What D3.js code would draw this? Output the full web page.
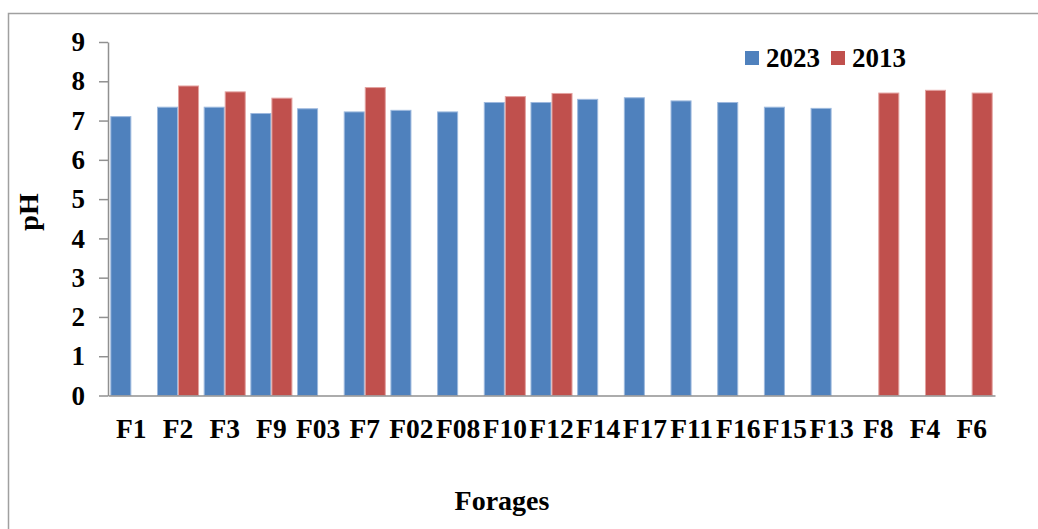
<!DOCTYPE html>
<html>
<head>
<meta charset="utf-8">
<script src="https://cdn.jsdelivr.net/npm/d3@7"></script>
<style>
  html, body { margin: 0; padding: 0; background: #fff; }
  svg { display: block; }
  text { font-family: "Liberation Serif", "Times New Roman", serif; font-weight: bold; fill: #000; }
</style>
</head>
<body>
<svg id="chart" width="1038" height="529"></svg>
<script>
// Borehole (forage) pH, 2023 vs 2013
const categories = ["F1","F2","F3","F9","F03","F7","F02","F08","F10","F12","F14","F17","F11","F16","F15","F13","F8","F4","F6"];
const seriesNames = ["2023", "2013"];
const ph2023 = [7.10, 7.34, 7.34, 7.18, 7.30, 7.22, 7.26, 7.22, 7.46, 7.46, 7.54, 7.58, 7.50, 7.46, 7.34, 7.31, null, null, null];
const ph2013 = [null, 7.88, 7.73, 7.57, null, 7.84, null, null, 7.61, 7.69, null, null, null, null, null, null, 7.70, 7.77, 7.70];
const yTicks = [0, 1, 2, 3, 4, 5, 6, 7, 8, 9];
const colors = { "2023": "#4F81BD", "2013": "#C0504D" };
const strokes = { "2023": "#9DB9DE", "2013": "#E3A19F" };

const svg = d3.select("#chart");

// chart area frame
svg.append("rect")
  .attr("x", 8.5).attr("y", 13.5)
  .attr("width", 1100).attr("height", 600)
  .attr("fill", "none").attr("stroke", "#A0A0A0").attr("stroke-width", 1.5);

const plot = { left: 108, right: 995, top: 42, bottom: 395.5 };

const x0 = d3.scaleBand().domain(categories).range([plot.left, plot.right]).paddingInner(0).paddingOuter(0);
const x1 = d3.scaleBand().domain(seriesNames).range([0, x0.bandwidth()]).paddingInner(0).paddingOuter(0.11);
const y = d3.scaleLinear().domain([0, 9]).range([plot.bottom, plot.top]);

// bars
const rows = categories.map((c, i) => ({ cat: c, values: [
  { s: "2023", v: ph2023[i] },
  { s: "2013", v: ph2013[i] }
].filter(d => d.v != null) }));

const groups = svg.append("g").selectAll("g").data(rows).join("g")
  .attr("transform", d => `translate(${x0(d.cat)},0)`);

groups.selectAll("rect").data(d => d.values).join("rect")
  .attr("x", d => x1(d.s) + 0.5)
  .attr("width", x1.bandwidth() - 1)
  .attr("y", d => y(d.v))
  .attr("height", d => y(0) - y(d.v))
  .attr("fill", d => colors[d.s])
  .attr("stroke", d => strokes[d.s])
  .attr("stroke-width", 1);

// y axis
const yAxis = svg.append("g")
  .attr("transform", `translate(${plot.left},0)`)
  .call(d3.axisLeft(y).tickValues(yTicks).tickFormat(d3.format("d")).tickSize(9).tickSizeOuter(0).tickPadding(14));
yAxis.select(".domain").attr("stroke", "#909090").attr("stroke-width", 1.5);
yAxis.selectAll(".tick line").attr("stroke", "#909090").attr("stroke-width", 1.5);
yAxis.selectAll(".tick text").style("font-size", "27px").style("font-family", "Liberation Serif").style("font-weight", "bold").attr("fill", "#000");

// x axis
const xAxis = svg.append("g")
  .attr("transform", `translate(0,${plot.bottom})`)
  .call(d3.axisBottom(x0).tickSize(0).tickSizeOuter(0).tickPadding(23));
xAxis.select(".domain").attr("stroke", "#909090").attr("stroke-width", 1.5);
xAxis.selectAll(".tick text").style("font-size", "27.5px").style("font-family", "Liberation Serif").style("font-weight", "bold").attr("fill", "#000");

// axis titles
svg.append("text")
  .attr("transform", "translate(38,212) rotate(-90)")
  .attr("text-anchor", "middle")
  .style("font-size", "28px")
  .text("pH");

svg.append("text")
  .attr("x", 502).attr("y", 510)
  .attr("text-anchor", "middle")
  .style("font-size", "28px")
  .text("Forages");

// legend
const legend = svg.append("g");
const legendItems = [{ s: "2023", x: 745 }, { s: "2013", x: 831 }];
legendItems.forEach(it => {
  legend.append("rect").attr("x", it.x).attr("y", 51).attr("width", 14).attr("height", 14).attr("fill", colors[it.s]);
  legend.append("text").attr("x", it.x + 21).attr("y", 67).style("font-size", "27px").text(it.s);
});
</script>
</body>
</html>
